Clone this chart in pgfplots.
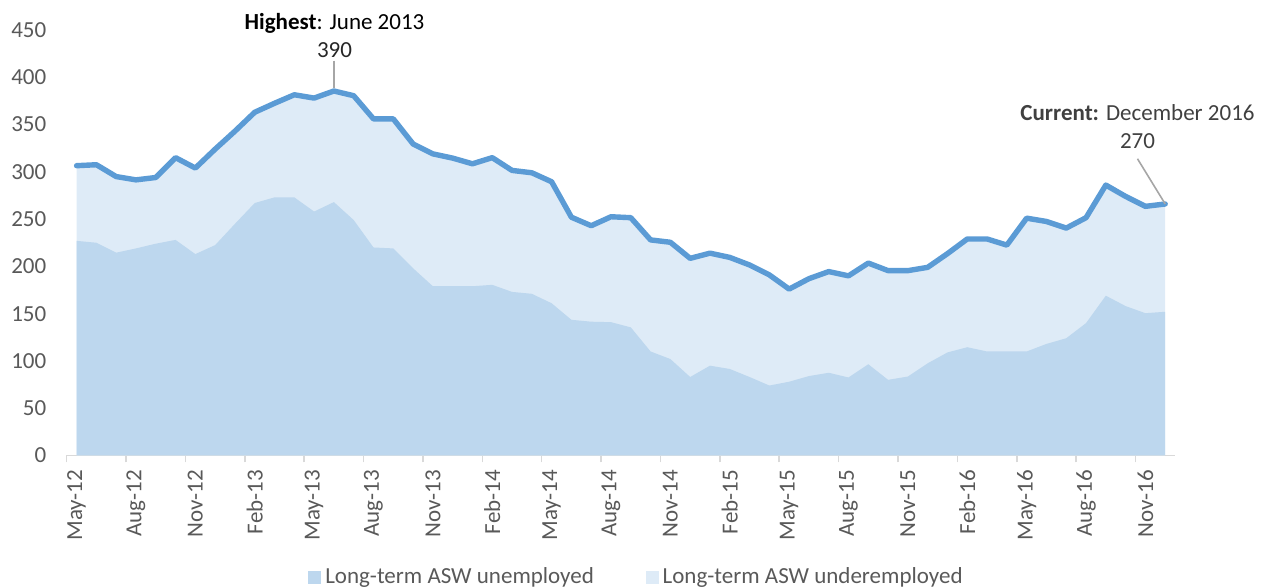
\documentclass[border=0pt]{standalone}
\usepackage{pgfplots}
\usepackage{pgfplotstable}
\pgfplotsset{compat=1.18}
\usepackage{fontspec}
\setmainfont{Carlito}

\definecolor{lineblue}{HTML}{5B9BD5}
\definecolor{unemp}{HTML}{BDD7EE}
\definecolor{underemp}{HTML}{DEEBF7}
\definecolor{axisgray}{HTML}{D9D9D9}
\definecolor{labelgray}{HTML}{595959}
\definecolor{leadergray}{HTML}{A6A6A6}

% i = months since May-12; total = unemployed + underemployed
\pgfplotstableread{
i total unemp
0 306.5 227
1 307.5 225
2 295 214.5
3 291.5 219
4 294 224
5 315 228
6 304 213
7 324 222.5
8 343 245
9 363 267
10 372.5 273
11 381.5 273
12 378 258
13 385.5 268
14 380.5 249
15 356 220
16 356 219
17 329.5 198
18 319 179
19 314.5 179
20 308.5 179
21 315 180.5
22 301.5 173
23 299 171
24 289.5 161
25 252 143.5
26 243 141.5
27 252.5 141
28 251.5 135.5
29 228 110
30 225.5 102
31 208.5 83
32 214 95
33 209.5 91.5
34 201.5 83
35 191 74
36 176 78
37 187 84
38 194.5 87.5
39 190 82.5
40 203.5 96.5
41 195.5 80
42 195.5 83.5
43 199 97.5
44 213.5 109
45 229 114.5
46 229 110
47 222.5 110
48 251 110
49 247.5 118
50 240.5 124
51 251.5 140
52 286 169
53 274 158
54 263.5 150.5
55 266 152
}\asw

\begin{document}
\begin{tikzpicture}
\path[use as bounding box] (0pt,0pt) rectangle (635pt,293.5pt);
\begin{axis}[
  at={(33.35pt,65.75pt)}, anchor=south west,
  scale only axis, width=554.2pt, height=212.75pt,
  xmin=-0.5, xmax=55.5, ymin=0, ymax=450,
  clip=false,
  axis x line*=bottom, axis y line*=left,
  y axis line style={draw=none},
  x axis line style={axisgray, line width=0.75pt},
  xtick={0,3,...,54},
  xticklabels={May-12,Aug-12,Nov-12,Feb-13,May-13,Aug-13,Nov-13,Feb-14,May-14,Aug-14,Nov-14,Feb-15,May-15,Aug-15,Nov-15,Feb-16,May-16,Aug-16,Nov-16},
  minor xtick={-0.5,2.5,...,53.5},
  major tick length=0pt, minor tick length=3.5pt,
  tick align=outside,
  x tick style={axisgray, line width=0.75pt},
  ytick={0,50,...,450},
  y tick style={draw=none},
  xticklabel style={rotate=90, anchor=east},
  xticklabel shift=3.7pt,
  yticklabel shift=6.7pt,
  tick label style={font=\fontsize{11.5}{13}\selectfont, text=labelgray},
  /pgf/number format/assume math mode=true,
  legend style={at={(0.515,-0.2855)}, anchor=center, legend columns=2,
    draw=none, fill=none, font=\fontsize{11.5}{13}\selectfont, text=labelgray,
    /tikz/every even column/.append style={column sep=24pt}},
  legend cell align=left,
]
\addplot[fill=underemp, draw=none, forget plot] table[x=i, y=total] {\asw} \closedcycle;
\addplot[fill=unemp, draw=none, forget plot] table[x=i, y=unemp] {\asw} \closedcycle;
\addplot[lineblue, line width=2.7pt, line join=round, line cap=round, forget plot] table[x=i, y=total] {\asw};

\addlegendimage{legend image code/.code={\fill[unemp] (0pt,-3pt) rectangle (6pt,3pt);}}
\addlegendentry{Long-term ASW unemployed}
\addlegendimage{legend image code/.code={\fill[underemp] (0pt,-3pt) rectangle (6pt,3pt);}}
\addlegendentry{Long-term ASW underemployed}

\draw[leadergray, line width=0.8pt] (axis cs:13,417.5) -- (axis cs:13,389);
\node[font=\fontsize{11.5}{13}\selectfont, text=black, inner sep=0pt] at (axis cs:13.03,457.5) {\textbf{Highest}: June 2013};
\node[font=\fontsize{11.5}{13}\selectfont, text=black!85, inner sep=0pt] at (axis cs:13.03,429) {390};

\draw[leadergray, line width=0.8pt] (axis cs:53.6,313.8) -- (axis cs:55,266);
\node[font=\fontsize{11.5}{13}\selectfont, text=black!75, inner sep=0pt] at (axis cs:53.6,362.5) {\textbf{Current:} December 2016};
\node[font=\fontsize{11.5}{13}\selectfont, text=black!75, inner sep=0pt] at (axis cs:53.6,332.8) {270};
\end{axis}
\end{tikzpicture}
\end{document}
